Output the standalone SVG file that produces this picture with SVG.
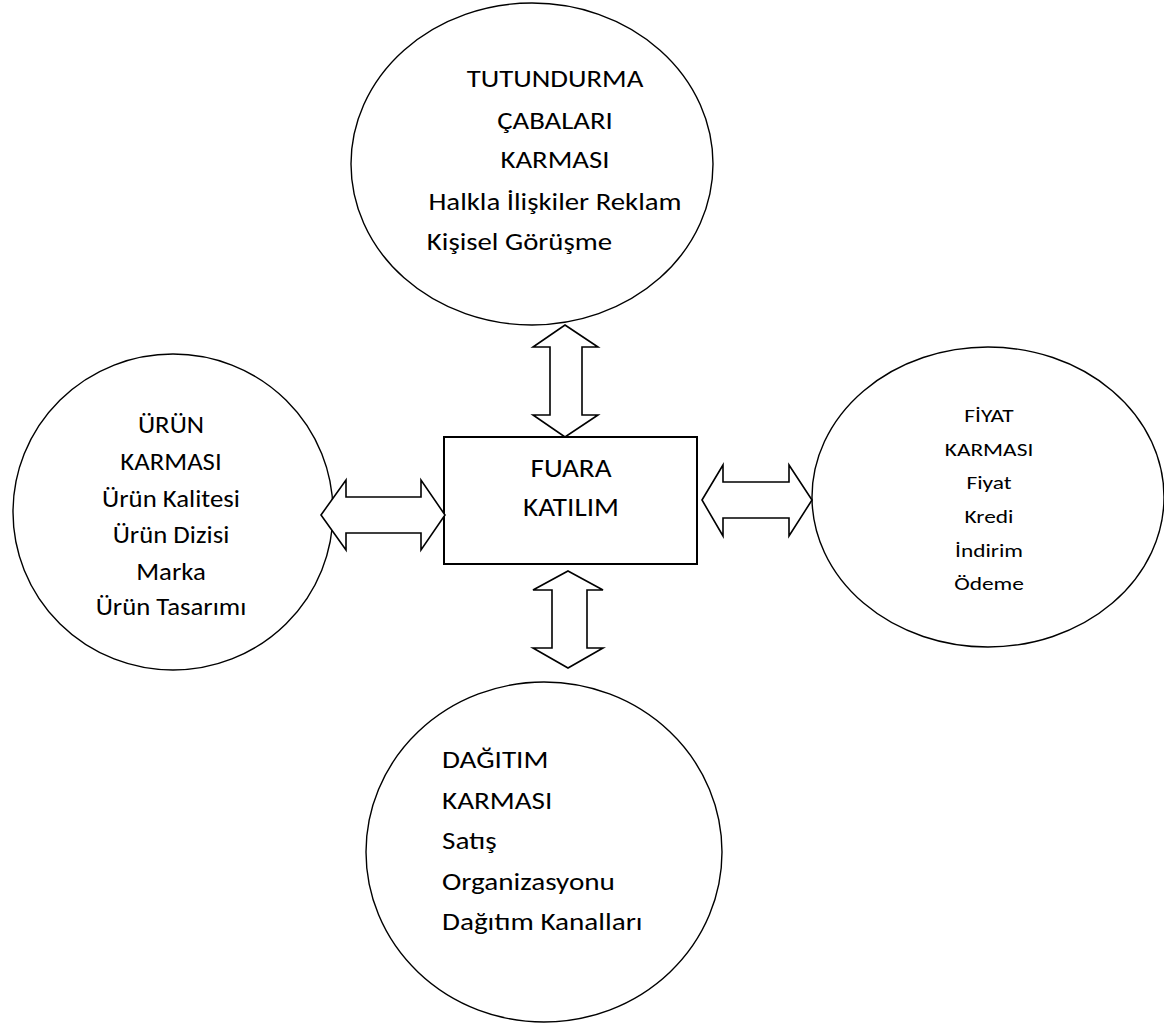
<svg xmlns="http://www.w3.org/2000/svg" width="1164" height="1024" viewBox="0 0 1164 1024">
  <style>
    .shape { fill: #ffffff; stroke: #000000; stroke-width: 1.4; }
    .box { fill: #ffffff; stroke: #000000; stroke-width: 2; }
    .arrow { fill: #ffffff; stroke: #000000; stroke-width: 1.6; stroke-linejoin: miter; }
    text { font-family: "Carlito", "Lato", "Liberation Sans", sans-serif; fill: #000000; }
    .mid { text-anchor: middle; }
  </style>
  <rect width="1164" height="1024" fill="#ffffff"/>

  <!-- Promotion mix -->
  <g id="node-tutundurma">
    <ellipse class="shape" cx="532" cy="164" rx="181" ry="161"/>
    <g transform="translate(555,0) scale(1.2,1)" font-size="24">
      <g class="mid">
        <text x="0" y="87">TUTUNDURMA</text>
        <text x="0" y="129">ÇABALARI</text>
        <text x="0" y="168">KARMASI</text>
        <text x="0" y="210">Halkla İlişkiler Reklam</text>
      </g>
      <text x="-106.8" y="250">Kişisel Görüşme</text>
    </g>
  </g>

  <!-- Product mix -->
  <g id="node-urun">
    <ellipse class="shape" cx="173" cy="512" rx="160" ry="158"/>
    <g class="mid" transform="translate(171,0) scale(1.13,1)" font-size="23.7">
      <text x="0" y="433">ÜRÜN</text>
      <text x="0" y="470">KARMASI</text>
      <text x="0" y="507">Ürün Kalitesi</text>
      <text x="0" y="543">Ürün Dizisi</text>
      <text x="0" y="580">Marka</text>
      <text x="0" y="615">Ürün Tasarımı</text>
    </g>
  </g>

  <!-- Central box -->
  <g id="node-fuara">
    <rect class="box" x="444" y="437" width="253" height="127"/>
    <g class="mid" transform="translate(571,0) scale(1.06,1)" font-size="27.5">
      <text x="0" y="477">FUARA</text>
      <text x="0" y="516">KATILIM</text>
    </g>
  </g>

  <!-- Price mix -->
  <g id="node-fiyat">
    <ellipse class="shape" cx="988" cy="497" rx="176" ry="150"/>
    <g class="mid" transform="translate(989,0) scale(1.3,1)" font-size="18">
      <text x="0" y="422">FİYAT</text>
      <text x="0" y="456">KARMASI</text>
      <text x="0" y="489">Fiyat</text>
      <text x="0" y="523">Kredi</text>
      <text x="0" y="557">İndirim</text>
      <text x="0" y="590">Ödeme</text>
    </g>
  </g>

  <!-- Distribution mix -->
  <g id="node-dagitim">
    <ellipse class="shape" cx="544" cy="852" rx="178" ry="170"/>
    <g transform="translate(442,0) scale(1.2,1)" font-size="24.3">
      <text x="0" y="768">DAĞITIM</text>
      <text x="0" y="809">KARMASI</text>
      <text x="0" y="849">Satış</text>
      <text x="0" y="890">Organizasyonu</text>
      <text x="0" y="930">Dağıtım Kanalları</text>
    </g>
  </g>

  <!-- Double-headed block arrows -->
  <g id="connectors">
    <polygon class="arrow" points="565,325 598,347 582,347 582,415 598,415 565,437 533,415 550,415 550,347 533,347"/>
    <polygon class="arrow" points="568,571 603,590 587,590 587,648 603,648 568,668 533,648 552,648 552,590 533,590"/>
    <polygon class="arrow" points="321,515 346,480 346,497 421,497 421,480 445,515 421,550 421,533 346,533 346,550"/>
    <polygon class="arrow" points="702,500 723,465 723,482 789,482 789,465 812,500 789,536 789,518 723,518 723,536"/>
  </g>
</svg>
